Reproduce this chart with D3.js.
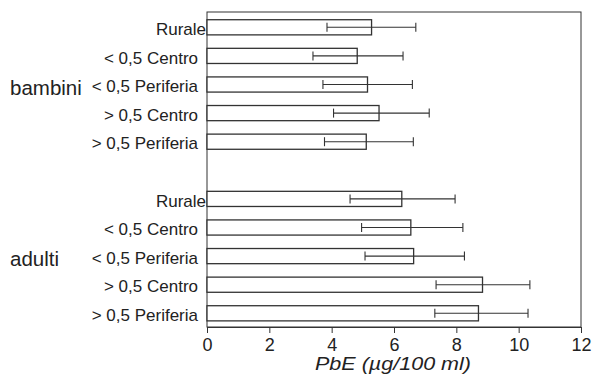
<!DOCTYPE html>
<html>
<head>
<meta charset="utf-8">
<script src="https://cdn.jsdelivr.net/npm/d3@7"></script>
<style>
  body { margin: 0; background: #fff; }
  text { font-family: "Liberation Sans", Arial, sans-serif; fill: #222; }
</style>
</head>
<body>
<div id="chart"></div>
<script>
// categories, top (bambini) to bottom (adulti); "gap" is the empty slot between groups
var rows = ["b0", "b1", "b2", "b3", "b4", "gap", "a0", "a1", "a2", "a3", "a4"];
var rowLabels = ["Rurale", "< 0,5 Centro", "< 0,5 Periferia", "> 0,5 Centro", "> 0,5 Periferia"];
var groups = ["bambini", "adulti"];

// PbE means and error bar ends (µg/100 ml)
var bambiniMean = [5.28, 4.82, 5.15, 5.52, 5.11];
var bambiniLow  = [3.85, 3.40, 3.72, 4.06, 3.77];
var bambiniHigh = [6.70, 6.29, 6.59, 7.13, 6.62];
var adultiMean  = [6.25, 6.54, 6.63, 8.84, 8.71];
var adultiLow   = [4.59, 4.96, 5.07, 7.35, 7.31];
var adultiHigh  = [7.96, 8.21, 8.26, 10.36, 10.30];

var xTicks = [0, 2, 4, 6, 8, 10, 12];

var svg = d3.select("#chart")
  .append("svg")
  .attr("width", 592)
  .attr("height", 375);

var margin = {top: 12, right: 11, bottom: 48, left: 207},
    width = +svg.attr("width"),
    height = +svg.attr("height");

var x = d3.scaleLinear()
    .domain([0, 12])
    .range([margin.left, width - margin.right]);

var y = d3.scaleBand()
    .domain(rows)
    .range([margin.top + 1, height - margin.bottom + 0.6])
    .paddingInner(0.47)
    .paddingOuter(0.235);

var data = [];
rowLabels.forEach(function(l, i) {
  data.push({key: "b" + i, label: l, mean: bambiniMean[i], lo: bambiniLow[i], hi: bambiniHigh[i]});
});
rowLabels.forEach(function(l, i) {
  data.push({key: "a" + i, label: l, mean: adultiMean[i], lo: adultiLow[i], hi: adultiHigh[i]});
});

// frame
svg.append("rect")
    .attr("x", x(0))
    .attr("y", margin.top)
    .attr("width", x(12) - x(0))
    .attr("height", height - margin.bottom - margin.top)
    .attr("fill", "none")
    .attr("stroke", "#333")
    .attr("stroke-width", 1);

// bars
svg.append("g").selectAll("rect")
  .data(data)
  .enter().append("rect")
    .attr("x", x(0))
    .attr("y", function(d) { return y(d.key); })
    .attr("width", function(d) { return x(d.mean) - x(0); })
    .attr("height", y.bandwidth())
    .attr("fill", "#fff")
    .attr("stroke", "#333")
    .attr("stroke-width", 1.3);

// error bars
var err = svg.append("g")
    .attr("stroke", "#333")
    .attr("stroke-width", 1.1)
  .selectAll("g")
  .data(data)
  .enter().append("g")
    .attr("transform", function(d) { return "translate(0," + (y(d.key) + y.bandwidth() / 2) + ")"; });

err.append("line")
    .attr("x1", function(d) { return x(d.lo); })
    .attr("x2", function(d) { return x(d.hi); });

err.append("line")
    .attr("x1", function(d) { return x(d.lo); })
    .attr("x2", function(d) { return x(d.lo); })
    .attr("y1", -4.5)
    .attr("y2", 4.5);

err.append("line")
    .attr("x1", function(d) { return x(d.hi); })
    .attr("x2", function(d) { return x(d.hi); })
    .attr("y1", -4.5)
    .attr("y2", 4.5);

// x axis
var xAxis = svg.append("g")
    .attr("transform", "translate(0," + (height - margin.bottom) + ")")
    .call(d3.axisBottom(x).tickValues(xTicks).tickSizeOuter(0).tickSize(6).tickPadding(5));

xAxis.select(".domain").attr("stroke", "#333");
xAxis.selectAll(".tick line").attr("stroke", "#333");
xAxis.selectAll(".tick text")
    .attr("font-size", 18)
    .attr("font-family", "Liberation Sans, Arial, sans-serif")
    .attr("fill", "#222");

svg.append("text")
    .attr("x", (x(0) + x(12)) / 2 - 1)
    .attr("y", 370)
    .attr("text-anchor", "middle")
    .attr("font-size", 19)
    .attr("font-style", "italic")
    .attr("textLength", 156)
    .attr("lengthAdjust", "spacingAndGlyphs")
    .text("PbE (\u00b5g/100 ml)");

// category labels
var yAxis = svg.append("g")
    .attr("transform", "translate(" + x(0) + ",0)")
    .call(d3.axisLeft(y)
      .tickValues(rows.filter(function(r) { return r !== "gap"; }))
      .tickSize(0)
      .tickPadding(9)
      .tickFormat(function(r) { return rowLabels[+r.slice(1)]; }));

yAxis.select(".domain").remove();
yAxis.selectAll(".tick text")
    .attr("font-size", 17)
    .attr("font-family", "Liberation Sans, Arial, sans-serif")
    .attr("fill", "#222")
    .attr("dy", "0.45em")
    .attr("x", function(r) { return r.slice(1) === "0" ? -1 : -9; });

// group labels
svg.selectAll(".group")
  .data(groups)
  .enter().append("text")
    .attr("class", "group")
    .attr("x", 10)
    .attr("y", function(d, i) { return i === 0 ? 95 : 266; })
    .attr("font-size", 20.5)
    .text(function(d) { return d; });
</script>
</body>
</html>
